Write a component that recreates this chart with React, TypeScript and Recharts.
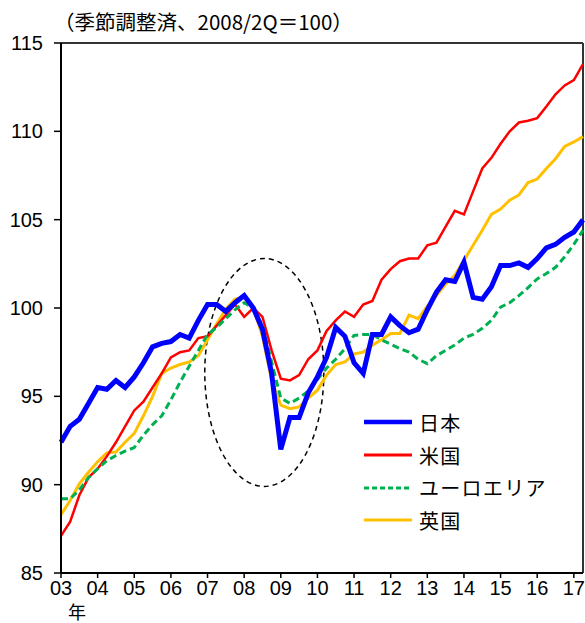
import { LineChart, Line, XAxis, YAxis, ReferenceLine, ReferenceArea } from "recharts";

// 2003Q1 .. 2017Q2, 2008/2Q = 100
const japan = [
  92.4, 93.3, 93.7, 94.6, 95.5, 95.4, 95.9, 95.5, 96.1, 96.9, 97.8, 98.0, 98.1, 98.5, 98.3, 99.3,
  100.2, 100.2, 99.8, 100.3, 100.7, 100.0, 98.8, 96.3, 92.0, 93.8, 93.8, 95.2, 96.1, 97.2, 98.9, 98.4,
  96.9, 96.3, 98.5, 98.5, 99.5, 99.0, 98.6, 98.8, 99.9, 100.9, 101.6, 101.5, 102.6, 100.6, 100.5, 101.2,
  102.4, 102.4, 102.55, 102.3, 102.8, 103.4, 103.6, 104.0, 104.3, 105.0
];
const us = [
  87.1, 87.9, 89.4, 90.4, 90.9, 91.6, 92.4, 93.3, 94.2, 94.7, 95.5, 96.3, 97.2, 97.5, 97.6, 98.3,
  98.4, 99.0, 99.6, 100.2, 99.5, 100.0, 99.5, 97.6, 96.0, 95.9, 96.2, 97.1, 97.6, 98.7, 99.3, 99.8,
  99.5, 100.2, 100.4, 101.6, 102.2, 102.65, 102.8, 102.8, 103.55, 103.7, 104.6, 105.5, 105.3, 106.6, 107.9, 108.5,
  109.3, 110.0, 110.5, 110.6, 110.75, 111.4, 112.1, 112.6, 112.9, 113.8
];
const euro = [
  89.2, 89.2, 89.7, 90.4, 90.9, 91.35, 91.65, 91.9, 92.1, 92.8, 93.4, 93.9, 94.8, 95.8, 96.7, 97.6,
  98.5, 98.9, 99.4, 99.9, 100.3, 100.0, 99.0, 96.95, 94.9, 94.6, 94.9, 95.3, 95.95, 96.6, 97.1, 97.7,
  98.45, 98.5, 98.5, 98.2, 97.95, 97.7, 97.5, 97.1, 96.85, 97.3, 97.6, 97.9, 98.3, 98.5, 98.85, 99.3,
  100.05, 100.3, 100.7, 101.15, 101.65, 101.95, 102.3, 102.9, 103.6, 104.4
];
const uk = [
  88.3, 89.1, 90.05, 90.7, 91.3, 91.8, 91.85, 92.4, 92.9, 93.9, 95.0, 96.3, 96.6, 96.8, 96.95, 97.3,
  98.2, 99.1, 99.95, 100.5, 100.6, 100.0, 98.4, 95.9, 94.5, 94.3, 94.4, 94.9, 95.35, 96.2, 96.8, 96.95,
  97.4, 97.5, 97.9, 98.2, 98.55, 98.55, 99.6, 99.4, 100.1, 100.7, 101.35, 101.85, 102.7, 103.55, 104.4, 105.3,
  105.6, 106.1, 106.4, 107.1, 107.3, 107.9, 108.45, 109.15, 109.4, 109.7
];

const yearLabels = ["03", "04", "05", "06", "07", "08", "09", "10", "11", "12", "13", "14", "15", "16", "17"];
const yTicks = [85, 90, 95, 100, 105, 110, 115];

const series = [
  { key: "uk", name: "英国", color: "#FFC000", width: 3, dash: undefined },
  { key: "us", name: "米国", color: "#FF0000", width: 2.5, dash: undefined },
  { key: "euro", name: "ユーロエリア", color: "#00B050", width: 3, dash: "7 4" },
  { key: "japan", name: "日本", color: "#0000FF", width: 5, dash: undefined }
];
const legendOrder = ["japan", "us", "euro", "uk"];

const data = japan.map((v, i) => ({ i, japan: v, us: us[i], euro: euro[i], uk: uk[i] }));
const xTicks = yearLabels.map((_, k) => k * 4);

const FONT = "'Liberation Sans', Arial, sans-serif";
const JP = "'Noto Sans CJK JP', sans-serif";

const XTick = (props: any) => {
  const { x, y, payload } = props;
  const label = yearLabels[payload.value / 4];
  return (
    <g>
      <text x={x} y={y + 1} dy="0.71em" textAnchor="middle" fill="#000" fontSize={20} fontFamily={FONT}>
        {label}
      </text>
      {payload.value === 0 && (
        <text x={x + 16} y={y + 26} dy="0.71em" textAnchor="middle" fill="#000" fontSize={18} fontFamily={JP}>
          年
        </text>
      )}
    </g>
  );
};

const LegendBox = () => (
  <div style={{ position: "absolute", left: 360, top: 406, fontFamily: JP, fontSize: 20, color: "#000" }}>
    {legendOrder.map((k) => {
      const s = series.find((d) => d.key === k)!;
      return (
        <div key={k} style={{ display: "flex", alignItems: "center", height: 32.7 }}>
          <svg width={54} height={10} style={{ marginRight: 5 }}>
            <line x1={4} x2={52} y1={5} y2={5} stroke={s.color} strokeWidth={s.key === "japan" ? 4.5 : 3}
              strokeDasharray={s.dash ? "5 3" : undefined} />
          </svg>
          <span style={{ letterSpacing: 1.3 }}>{s.name}</span>
        </div>
      );
    })}
  </div>
);

export default function App() {
  return (
    <div style={{ position: "absolute", left: 0, top: 0, width: 585, height: 623, background: "#fff" }}>
      <div style={{ position: "absolute", left: 54, top: 6, fontFamily: JP, fontSize: 20.5, color: "#000", whiteSpace: "nowrap" }}>
        （季節調整済、2008/2Q＝100）
      </div>
      <LineChart width={585} height={623} data={data} margin={{ top: 43, right: 2, bottom: 0, left: 0 }}>
        <XAxis
          dataKey="i"
          type="number"
          domain={[0, 57]}
          ticks={xTicks}
          interval={0}
          height={50}
          tick={<XTick />}
          tickSize={5}
          tickMargin={2}
          axisLine={{ stroke: "#000", strokeWidth: 2 }}
          tickLine={{ stroke: "#000", strokeWidth: 1.5 }}
        />
        <YAxis
          type="number"
          domain={[85, 115]}
          ticks={yTicks}
          interval={0}
          width={61}
          tickSize={7}
          tickMargin={11}
          tick={{ fill: "#000", fontSize: 20, fontFamily: FONT }}
          axisLine={{ stroke: "#000", strokeWidth: 2 }}
          tickLine={{ stroke: "#000", strokeWidth: 1.5 }}
        />
        <ReferenceLine y={115} stroke="#333" strokeWidth={2} />
        <ReferenceLine x={57} stroke="#333" strokeWidth={2} />
        {series.map((s) => (
          <Line
            key={s.key}
            dataKey={s.key}
            name={s.name}
            type="linear"
            stroke={s.color}
            strokeWidth={s.width}
            strokeDasharray={s.dash}
            dot={false}
            activeDot={false}
            isAnimationActive={false}
          />
        ))}
        <ReferenceArea
          x1={15.7}
          x2={28.7}
          y1={89.9}
          y2={102.8}
          shape={(p: any) => (
            <ellipse
              cx={p.x + p.width / 2}
              cy={p.y + p.height / 2}
              rx={Math.abs(p.width) / 2}
              ry={Math.abs(p.height) / 2}
              fill="none"
              stroke="#000"
              strokeWidth={1.5}
              strokeDasharray="5 4"
            />
          )}
        />
      </LineChart>
      <LegendBox />
    </div>
  );
}
